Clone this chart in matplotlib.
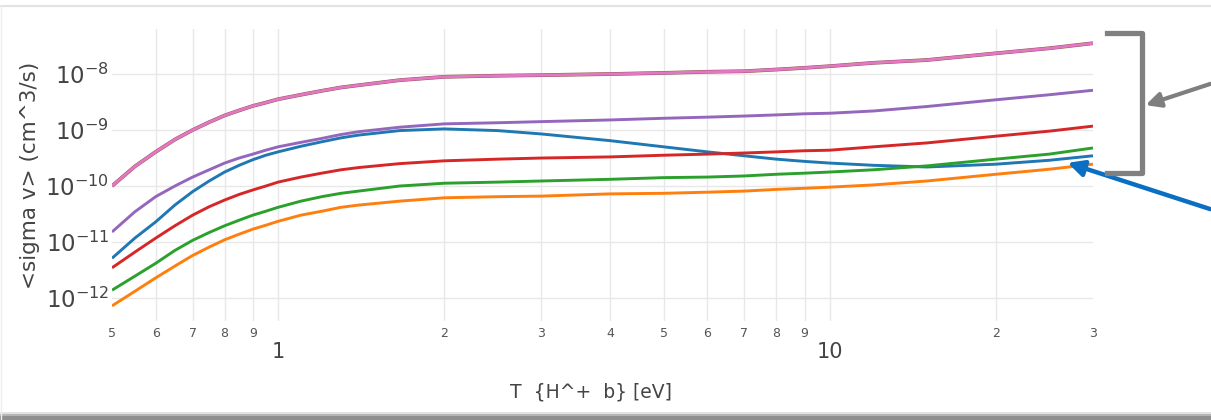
import numpy as np
import matplotlib
matplotlib.use("Agg")
import matplotlib.pyplot as plt
from matplotlib.lines import Line2D
from matplotlib.patches import Rectangle, FancyArrowPatch

plt.rcParams["font.family"] = ["DejaVu Sans"]
plt.rcParams["mathtext.fontset"] = "dejavusans"

# Temperature grid [eV]
temperature = [0.5, 0.55, 0.6, 0.65, 0.7, 0.75, 0.8, 0.85, 0.9, 0.95, 1.0, 1.1, 1.2,
               1.3, 1.4, 1.66, 2.0, 2.5, 3.0, 4.0, 5.0, 6.0, 7.0, 8.0, 9.0, 10.0, 12.0,
               15.0, 20.0, 25.0, 30.0]

# Rate coefficients, stored as log10(<sigma v> / cm^3 s^-1)
log_blue = [-11.29, -10.93, -10.64, -10.34, -10.10, -9.91, -9.75, -9.63, -9.53, -9.45,
            -9.39, -9.29, -9.21, -9.14, -9.09, -9.01, -8.98, -9.01, -9.07, -9.19,
            -9.30, -9.39, -9.46, -9.52, -9.56, -9.59, -9.63, -9.66, -9.61, -9.54, -9.46]
log_orange = [-12.14, -11.88, -11.64, -11.43, -11.24, -11.09, -10.96, -10.86, -10.77,
              -10.70, -10.63, -10.52, -10.45, -10.38, -10.34, -10.27, -10.21, -10.19,
              -10.18, -10.14, -10.13, -10.11, -10.09, -10.06, -10.04, -10.02, -9.98,
              -9.91, -9.79, -9.70, -9.61]
log_green = [-11.86, -11.61, -11.38, -11.15, -10.97, -10.83, -10.71, -10.61, -10.52,
             -10.45, -10.38, -10.27, -10.19, -10.13, -10.09, -10.00, -9.95, -9.93,
             -9.91, -9.88, -9.85, -9.84, -9.82, -9.79, -9.77, -9.75, -9.71, -9.64,
             -9.52, -9.43, -9.32]
log_red = [-11.46, -11.18, -10.93, -10.71, -10.52, -10.37, -10.25, -10.15, -10.07,
           -10.00, -9.93, -9.84, -9.77, -9.71, -9.67, -9.60, -9.55, -9.52, -9.50,
           -9.48, -9.45, -9.43, -9.41, -9.39, -9.37, -9.36, -9.30, -9.23, -9.11,
           -9.02, -8.93]
log_purple = [-10.82, -10.46, -10.19, -10.00, -9.84, -9.71, -9.59, -9.50, -9.43, -9.36,
              -9.30, -9.22, -9.15, -9.08, -9.03, -8.95, -8.89, -8.87, -8.85, -8.82,
              -8.79, -8.77, -8.75, -8.73, -8.71, -8.70, -8.66, -8.58, -8.46, -8.37,
              -8.29]
log_brown = [-10.00, -9.65, -9.39, -9.17, -9.00, -8.86, -8.74, -8.65, -8.57, -8.51,
             -8.45, -8.37, -8.30, -8.24, -8.20, -8.11, -8.05, -8.03, -8.02, -8.00,
             -7.98, -7.96, -7.95, -7.92, -7.89, -7.86, -7.80, -7.75, -7.63, -7.54,
             -7.45]
log_pink = list(log_brown)

series = [
    (log_blue, "#1f77b4"),
    (log_orange, "#ff7f0e"),
    (log_green, "#2ca02c"),
    (log_red, "#d62728"),
    (log_purple, "#9467bd"),
    (log_brown, "#8c564b"),
    (log_pink, "#e377c2"),
]

minor_ticks = [0.5, 0.6, 0.7, 0.8, 0.9, 2, 3, 4, 5, 6, 7, 8, 9, 20, 30]
minor_labels = ["5", "6", "7", "8", "9", "2", "3", "4", "5", "6", "7", "8", "9", "2", "3"]
major_ticks = [1, 10]
major_labels = ["1", "10"]
y_ticks = [1e-12, 1e-11, 1e-10, 1e-9, 1e-8]
y_labels = [r"$10^{-12}$", r"$10^{-11}$", r"$10^{-10}$", r"$10^{-9}$", r"$10^{-8}$"]

W, H = 1211, 420
fig = plt.figure(figsize=(W / 100, H / 100), dpi=100)
fig.patch.set_facecolor("white")

left, right, top, bottom = 112, 1093, 29, 321
ax = fig.add_axes([left / W, 1 - bottom / H, (right - left) / W, (bottom - top) / H])
ax.set_xscale("log")
ax.set_yscale("log")
ax.set_xlim(0.5, 30)
ax.set_ylim(10 ** -12.41, 10 ** -7.196)

grid_c = "#e8e8e8"
for xv in [0.6, 0.7, 0.8, 0.9, 1, 2, 3, 4, 5, 6, 7, 8, 9, 10, 20]:
    ax.axvline(xv, color=grid_c, lw=1.0, zorder=0)
for yv in y_ticks:
    ax.axhline(yv, color=grid_c, lw=1.0, zorder=0)

T = np.array(temperature)
for vals, col in series:
    lw = 2.7 if col == "#8c564b" else 2.1
    ax.plot(T, 10 ** np.array(vals), color=col, lw=lw, solid_capstyle="butt",
            solid_joinstyle="round", zorder=2)

for s in ax.spines.values():
    s.set_visible(False)

ax.set_xticks(major_ticks)
ax.set_xticklabels(major_labels)
ax.set_xticks(minor_ticks, minor=True)
ax.set_xticklabels(minor_labels, minor=True)
ax.tick_params(axis="x", which="major", length=0, labelsize=15, pad=15, labelcolor="#444444")
ax.tick_params(axis="x", which="minor", length=0, labelsize=9, pad=4, labelcolor="#555555")
ax.set_yticks(y_ticks)
ax.set_yticklabels(y_labels)
ax.yaxis.set_minor_locator(matplotlib.ticker.NullLocator())
ax.tick_params(axis="y", length=0, labelsize=16.5, pad=2, labelcolor="#444444")

fig.text(30 / W, 1 - 175 / H, "<sigma v> (cm^3/s)", rotation=90, ha="center",
         va="center", fontsize=15.5, color="#444444")
fig.text(591 / W, 1 - 392 / H, "T  {H^+  b} [eV]", ha="center", va="center",
         fontsize=13.5, color="#444444")

# frame lines around the figure
fig.add_artist(Line2D([0, 1], [1 - 6 / H, 1 - 6 / H], color="#e3e3e3", lw=1.5,
                      transform=fig.transFigure))
fig.add_artist(Line2D([0.5 / W, 0.5 / W], [0, 1 - 6 / H], color="#eeeeee", lw=1,
                      transform=fig.transFigure))
for y0, y1, c in [(412, 414, "#e2e2e2"), (414, 416, "#b5b5b5"), (416, 420, "#8f8f8f")]:
    fig.add_artist(Rectangle((0, 1 - y1 / H), 1, (y1 - y0) / H, color=c, lw=0,
                             transform=fig.transFigure))

# bracket grouping the curves and the two callout arrows
bx = [1107, 1142, 1142, 1107]
by = [33, 33, 173, 173]
fig.add_artist(Line2D([v / W for v in bx], [1 - v / H for v in by], color="#808080",
                      lw=3.8, solid_joinstyle="round", transform=fig.transFigure))
fig.add_artist(FancyArrowPatch(
    (1213 / W, 1 - 83 / H), (1143 / W, 1 - 106 / H), transform=fig.transFigure,
    arrowstyle="-|>", mutation_scale=22, lw=3.0, color="#7f7f7f"))
fig.add_artist(FancyArrowPatch(
    (1213 / W, 1 - 210 / H), (1065 / W, 1 - 162 / H), transform=fig.transFigure,
    arrowstyle="-|>", mutation_scale=24, lw=3.2, color="#0a6fc2"))

fig.savefig("out.png", dpi=100, facecolor="white")
